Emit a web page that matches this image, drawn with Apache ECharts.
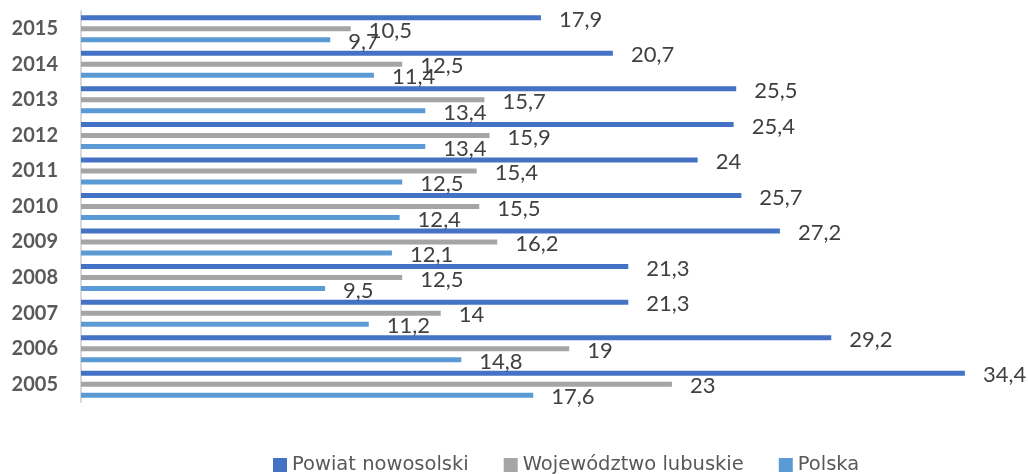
<!DOCTYPE html>
<html>
<head>
<meta charset="utf-8">
<script src="https://cdn.jsdelivr.net/npm/echarts@6/dist/echarts.min.js"></script>
<style>
html, body { margin: 0; padding: 0; background: #fff; }
#main { width: 1028px; height: 474px; }
</style>
</head>
<body>
<div id="main"></div>
<script>
const years = ['2005', '2006', '2007', '2008', '2009', '2010', '2011', '2012', '2013', '2014', '2015'];
const powiat = [34.4, 29.2, 21.3, 21.3, 27.2, 25.7, 24, 25.4, 25.5, 20.7, 17.9];
const lubuskie = [23, 19, 14, 12.5, 16.2, 15.5, 15.4, 15.9, 15.7, 12.5, 10.5];
const polska = [17.6, 14.8, 11.2, 9.5, 12.1, 12.4, 12.5, 13.4, 13.4, 11.4, 9.7];

const font = 'Lato, "Liberation Sans", sans-serif';

function label() {
  return {
    show: true,
    position: 'right',
    distance: 18,
    offset: [0, 2],
    color: '#404040',
    fontSize: 22,
    fontFamily: font,
    formatter: (p) => String(p.value).replace('.', ','),
  };
}

function bar(name, data, color) {
  return {
    name: name,
    type: 'bar',
    data: data,
    barWidth: 5,
    barGap: '120%',
    itemStyle: { color: color },
    label: label(),
  };
}

const myChart = echarts.init(document.getElementById('main'));
myChart.setOption({
  animation: false,
  grid: { left: 81, top: 11, width: 925, height: 391 },
  legend: {
    top: 455,
    left: 273,
    padding: 0,
    itemWidth: 14,
    itemHeight: 14,
    itemGap: 35,
    icon: 'rect',
    textStyle: { color: '#595959', fontSize: 19.5, lineHeight: 14, fontFamily: '"DejaVu Sans", sans-serif' },
  },
  xAxis: {
    type: 'value',
    min: 0,
    max: 36,
    show: false,
  },
  yAxis: {
    type: 'category',
    data: years,
    axisTick: { show: false },
    axisLine: { lineStyle: { color: '#d9d9d9', width: 2 } },
    axisLabel: {
      color: '#595959',
      fontSize: 20,
      fontWeight: 'bold',
      fontFamily: font,
      margin: 23,
    },
  },
  series: [
    bar('Powiat nowosolski', powiat, '#4472c4'),
    bar('Województwo lubuskie', lubuskie, '#a5a5a5'),
    bar('Polska', polska, '#5b9bd5'),
  ],
});
</script>
</body>
</html>
